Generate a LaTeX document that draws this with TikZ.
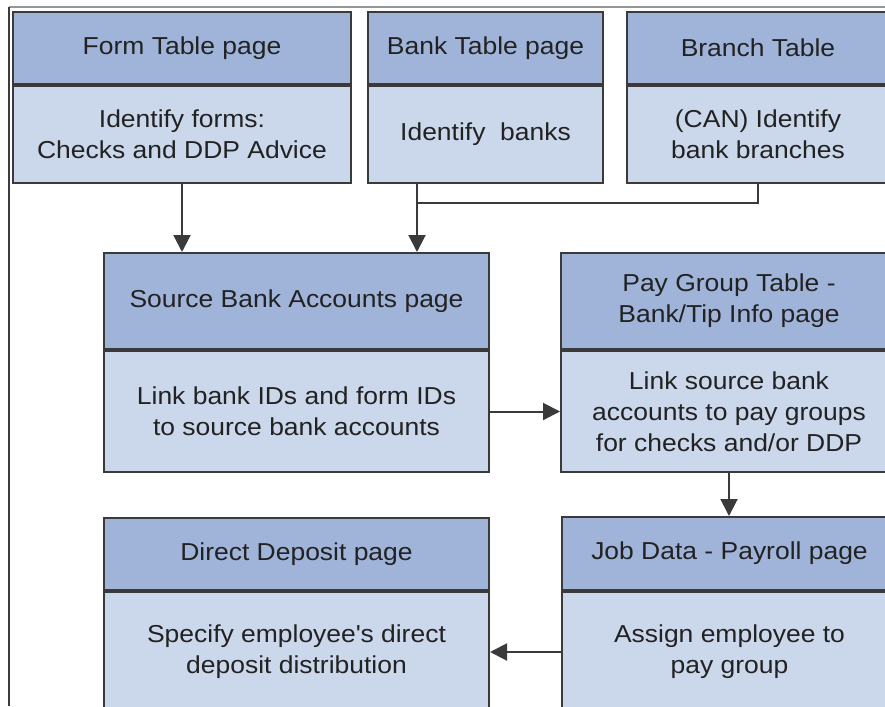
\documentclass[tikz,border=0pt]{standalone}
\usepackage{fontspec}
\setmainfont{Liberation Sans}[FakeStretch=1.08]
\usetikzlibrary{arrows.meta,calc}
\definecolor{hdrfill}{RGB}{160,180,218}
\definecolor{bdyfill}{RGB}{203,216,236}
\definecolor{edge}{RGB}{58,58,58}
\definecolor{txt}{RGB}{34,34,34}
\tikzset{
  boxbase/.style={draw=edge, line width=2pt, rectangle, inner sep=0pt, align=center,
    text=txt, font=\fontsize{24.5}{31}\selectfont},
  hdr/.style={boxbase, fill=hdrfill},
  bdy/.style={boxbase, fill=bdyfill},
  arr/.style={draw=edge, line width=2pt, -{Triangle[length=17pt,width=17pt]}},
  lnk/.style={draw=edge, line width=2pt},
}
\begin{document}
\begin{tikzpicture}[x=1pt,y=-1pt]
\useasboundingbox (0,0) rectangle (885,706);
\clip (0,0) rectangle (885,706);
\fill[white] (0,0) rectangle (885,706);
% frame lines
\coordinate (ftl) at (9,7);
\coordinate (ftr) at (885,7);
\coordinate (fbl) at (9,706);
\draw[line width=1.5pt, draw={rgb,255:red,150;green,150;blue,150}] (ftl) -- (ftr);
\draw[line width=1.5pt, draw={rgb,255:red,60;green,60;blue,60}] (ftl) -- (fbl);

% top row
\node[hdr, minimum width=338pt, minimum height=72pt, anchor=north west] (formH) at (12,11) {Form Table page};
\node[bdy, minimum width=338pt, minimum height=97pt, anchor=north] (formB) at (formH.south) {Identify forms:\\Checks and DDP Advice};

\node[hdr, minimum width=235pt, minimum height=72pt, anchor=north west] (bankH) at (367,11) {Bank Table page};
\node[bdy, minimum width=235pt, minimum height=97pt, anchor=north] (bankB) at (bankH.south) {Identify~ banks};

\node[hdr, minimum width=262pt, minimum height=72pt, anchor=north west] (branchH) at (626,11) {Branch Table};
\node[bdy, minimum width=262pt, minimum height=97pt, anchor=north] (branchB) at (branchH.south) {(CAN) Identify\\bank branches};

% middle row
\node[hdr, minimum width=385pt, minimum height=96pt, anchor=north west] (srcH) at (103,252) {Source Bank Accounts page};
\node[bdy, minimum width=385pt, minimum height=121pt, anchor=north] (srcB) at (srcH.south) {Link bank IDs and form IDs\\to source bank accounts};

\node[hdr, minimum width=336pt, minimum height=96pt, anchor=north west] (payH) at (560,252) {Pay Group Table -\\Bank/Tip Info page};
\node[bdy, minimum width=336pt, minimum height=121pt, anchor=north] (payB) at (payH.south) {Link source bank\\accounts to pay groups\\for checks and/or DDP};

% bottom row
\node[hdr, minimum width=385pt, minimum height=72pt, anchor=north west] (ddH) at (103,517) {Direct Deposit page};
\node[bdy, minimum width=385pt, minimum height=120pt, anchor=north] (ddB) at (ddH.south) {Specify employee\textquotesingle s direct\\deposit distribution};

\node[hdr, minimum width=335pt, minimum height=73pt, anchor=north west] (jobH) at (561,516) {Job Data - Payroll page};
\node[bdy, minimum width=335pt, minimum height=120pt, anchor=north] (jobB) at (jobH.south) {Assign employee to\\pay group};

% connectors
\coordinate (bj) at (417,203);
\draw[arr] (formB.south) -- (formB.south |- srcH.north);
\draw[lnk] (branchB.south) |- (bj);
\draw[arr] (bankB.south -| bj) -- (srcH.north -| bj);
\draw[arr] (srcB.east) -- (payB.west);
\draw[arr] (payB.south) -- (payB.south |- jobH.north);
\draw[arr] (jobB.west) -- (jobB.west -| ddB.east);
\end{tikzpicture}
\end{document}
